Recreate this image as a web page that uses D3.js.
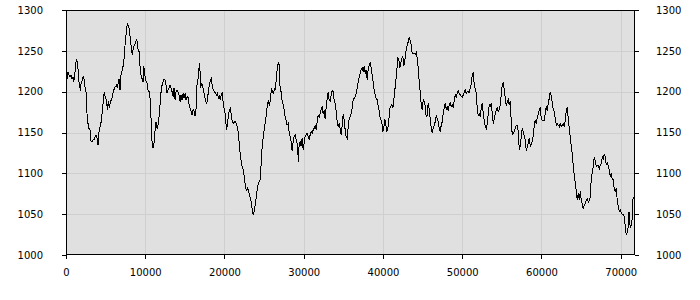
<!DOCTYPE html>
<html>
<head>
<meta charset="utf-8">
<script src="https://cdn.jsdelivr.net/npm/d3@7"></script>
<style>
  html, body { margin: 0; padding: 0; background: #ffffff; }
  svg { display: block; }
  text { font-family: "DejaVu Sans", sans-serif; font-size: 10px; fill: #000; }
</style>
</head>
<body>
<svg id="chart" width="700" height="300"></svg>
<script>
// ---- data ----
const xTicks = [0, 10000, 20000, 30000, 40000, 50000, 60000, 70000];
const yTicks = [1000, 1050, 1100, 1150, 1200, 1250, 1300];
const xDomain = [0, 71800];
const yDomain = [1000, 1300];

const steps = [
84,168,253,379,505,631,758,884,968,1094,1221,1305,1431,1557,1684,1810,1936,2062,2189,2315,2441,2568,2652,2778,2904,3031,3157,3283,3409,3536,3662,3788,3914,4041,4125,4251,4377,4504,4630,4756,4840,4967,5093,5219,5345,5472,5598,5724,5851,5977,6103,6229,6356,6482,6566,6692,6819,6903,7029,7156,7282,7408,7492,7618,7745,7871,7997,8123,8250,8376,8502,8628,8755,8881,9007,9092,9218,9344,9470,9597,9723,9807,9933,10017,10144,10270,10354,10480,10607,10733,10859,10986,11112,11238,11364,11491,11617,11743,11869,11996,12122,12248,12375,12501,12627,12753,12880,13006,13132,13258,13385,13511,13637,13764,13890,14016,
14267,14394,14520,14646,14772,14899,15025,15151,15277,15404,15530,15656,15783,15909,16035,16161,16288,16414,16498,16624,16751,16835,16919,17003,17087,17214,17340,17466,17592,17719,17845,17971,18098,18224,18350,18476,18603,18729,18855,18981,19108,19234,19360,19486,19613,19739,19865,19992,20118,20244,20370,20497,20623,20749,20875,21002,21128,21254,21381,21507,21633,21759,21886,22012,22138,22264,22391,22517,22643,22770,22896,23022,23148,23275,23401,23527,23653,23780,23906,24032,24159,24285,24411,24537,24664,24790,24916,25042,25169,25295,25421,25548,25674,25800,25926,26053,26179,26305,26431,26558,26684,26810,26937,27021,27147,27273,27400,27526,27652,27778,27905,28031,28157,28283,28410,
28535,28661,28788,28914,29040,29166,29251,29335,29419,29545,29671,29798,29924,30050,30177,30303,30429,30555,30682,30808,30934,31060,31187,31313,31439,31566,31692,31818,31944,32071,32197,32323,32449,32576,32702,32828,32955,33081,33207,33333,33460,33586,33712,33838,33965,34091,34217,34344,34470,34596,34722,34849,34975,35101,35227,35354,35480,35606,35732,35859,35985,36111,36238,36364,36490,36616,36743,36869,36995,37121,37248,37374,37500,37627,37753,37879,38005,38132,38258,38384,38510,38637,38763,38889,39016,39142,39268,39394,39521,39647,39773,39899,39984,40110,40236,40362,40489,40615,40741,40867,40994,41120,41246,41373,41499,41625,41751,41878,42004,42130,42256,42383,42509,42635,42762,42888,
43054,43181,43307,43433,43559,43686,43812,43938,44064,44191,44317,44443,44570,44696,44822,44948,45075,45201,45327,45453,45580,45706,45832,45959,46085,46211,46337,46464,46590,46716,46842,46969,47095,47221,47348,47474,47600,47726,47853,47979,48105,48231,48358,48484,48610,48737,48863,48989,49115,49242,49368,49494,49620,49747,49873,49999,50126,50252,50378,50504,50631,50757,50883,51009,51136,51262,51388,51515,51641,51767,51893,52020,52146,52272,52398,52525,52651,52777,52904,53030,53156,53282,53409,53535,53661,53787,53914,54040,54166,54293,54419,54545,54671,54798,54924,55050,55176,55303,55429,55555,55682,55808,55934,56060,56187,56313,56439,56565,56692,56818,56944,57071,57197,
57322,57448,57575,57701,57827,57953,58080,58206,58332,58458,58585,58711,58837,58964,59090,59216,59342,59469,59595,59721,59847,59974,60100,60226,60353,60479,60605,60731,60858,60984,61110,61236,61363,61489,61615,61742,61868,61994,62120,62247,62373,62499,62625,62752,62878,63004,63131,63257,63383,63509,63636,63762,63888,64014,64141,64267,64393,64520,64646,64772,64898,65025,65151,65277,65403,65530,65656,65782,65909,66035,66161,66287,66414,66540,66666,66792,66919,67045,67171,67298,67424,67550,67676,67803,67929,68055,68181,68308,68434,68560,68687,68813,68939,69065,69192,69318,69444,69570,69697,69823,69949,70076,70202,70328,70454,70581,70707,70833,70959,71044,71128,71254,71380,71465,71549,71675
];

const values = [
1227,1216,1224,1220,1218,1220,1216,1218,1212,1220,1233,1239,1237,1224,1206,1203,1212,1214,1219,1214,1202,1198,1173,1161,1155,1153,1139,1139,1141,1141,1145,1147,1143,1135,1149,1155,1159,1169,1180,1194,1200,1192,1190,1178,1188,1180,1188,1190,1194,1200,1204,1206,1208,1204,1210,1216,1202,1218,1224,1229,1235,1251,1263,1273,1284,1280,1276,1263,1253,1245,1255,1257,1259,1263,1261,1251,1249,1231,1220,1216,1212,1231,1224,1214,1212,1210,1202,1200,1192,1167,1139,1131,1137,1153,1163,1155,1159,1169,1184,1200,1208,1212,1215,1214,1208,1198,1202,1205,1208,1204,1200,1194,1205,1190,1200,1202,
1196,1188,1196,1190,1198,1192,1198,1190,1194,1193,1184,1180,1176,1171,1178,1176,1170,1180,1206,1212,1224,1235,1224,1204,1210,1208,1202,1196,1190,1186,1188,1202,1208,1214,1216,1204,1202,1200,1198,1196,1198,1192,1194,1190,1198,1199,1182,1178,1171,1153,1159,1171,1178,1180,1169,1163,1161,1163,1163,1161,1155,1149,1133,1120,1114,1106,1104,1094,1084,1078,1082,1080,1073,1069,1063,1053,1049,1055,1063,1073,1082,1088,1090,1094,1120,1137,1147,1155,1165,1173,1186,1188,1182,1192,1204,1200,1198,1204,1203,1218,1231,1235,1233,1202,1200,1188,1184,1178,1169,1165,1159,1161,1151,1145,1139,
1127,1139,1145,1147,1141,1137,1127,1114,1137,1139,1133,1143,1129,1137,1145,1147,1149,1145,1142,1147,1151,1149,1153,1155,1159,1153,1163,1171,1169,1173,1178,1182,1173,1176,1167,1180,1192,1199,1190,1188,1196,1202,1200,1190,1186,1176,1163,1157,1161,1155,1147,1159,1173,1165,1153,1145,1143,1157,1167,1169,1173,1180,1190,1192,1194,1198,1204,1212,1218,1222,1227,1229,1224,1231,1222,1227,1214,1227,1233,1235,1229,1220,1212,1202,1196,1192,1190,1182,1176,1167,1165,1159,1151,1157,1167,1159,1151,1155,1165,1180,1182,1184,1180,1190,1202,1214,1227,1241,1239,1229,1235,1241,1243,1231,1239,1249,
1257,1261,1267,1263,1257,1247,1246,1247,1246,1248,1241,1229,1212,1200,1184,1178,1190,1188,1182,1169,1171,1186,1178,1167,1155,1149,1155,1159,1163,1171,1167,1163,1155,1151,1159,1163,1173,1180,1186,1178,1182,1176,1184,1186,1182,1184,1180,1190,1196,1193,1198,1201,1198,1196,1194,1193,1196,1199,1202,1198,1200,1200,1199,1204,1210,1220,1224,1208,1204,1198,1180,1171,1173,1169,1180,1186,1173,1165,1157,1155,1161,1173,1184,1182,1186,1173,1161,1167,1173,1178,1180,1176,1178,1184,1196,1208,1212,1202,1192,1182,1188,1190,1184,1189,1163,1147,1149,1151,1155,1159,1159,1151,1129,
1133,1145,1155,1151,1145,1141,1127,1133,1137,1143,1133,1135,1139,1147,1159,1165,1161,1169,1173,1178,1180,1167,1165,1165,1165,1173,1182,1176,1186,1192,1200,1194,1186,1178,1176,1167,1159,1161,1159,1157,1161,1157,1159,1161,1157,1165,1178,1180,1167,1155,1143,1133,1124,1108,1098,1088,1078,1067,1076,1067,1078,1067,1063,1056,1061,1063,1067,1069,1065,1067,1071,1096,1100,1110,1120,1114,1108,1110,1109,1106,1110,1112,1120,1118,1124,1120,1110,1114,1108,1104,1096,1100,1092,1092,1080,1078,1082,1065,1059,1053,1055,1051,1050,1049,1047,1033,1024,1029,1035,1053,1039,1033,1039,1047,1069,1071
];

// ---- layout ----
const M = { left: 66, top: 10, right: 65, bottom: 45 };
const W = 700, H = 300;
const iw = W - M.left - M.right;   // 569
const ih = H - M.top - M.bottom;   // 245

const svg = d3.select("#chart");
const g = svg.append("g").attr("transform", `translate(${M.left},${M.top})`);

const x = d3.scaleLinear().domain(xDomain).range([0, iw]);
const y = d3.scaleLinear().domain(yDomain).range([ih, 0]);

// background
g.append("rect").attr("x", 0).attr("y", 0).attr("width", iw).attr("height", ih)
  .attr("fill", "#e0e0e0");

// grid
g.append("g").selectAll("line.vg").data(xTicks.filter(d => d > 0)).join("line")
  .attr("x1", d => Math.round(x(d)) + 0.5).attr("x2", d => Math.round(x(d)) + 0.5)
  .attr("y1", 0).attr("y2", ih)
  .attr("stroke", "#cfcfcf").attr("stroke-width", 1);
g.append("g").selectAll("line.hg").data(yTicks.filter(d => d > 1000 && d < 1300)).join("line")
  .attr("y1", d => Math.round(y(d)) + 0.5).attr("y2", d => Math.round(y(d)) + 0.5)
  .attr("x1", 0).attr("x2", iw)
  .attr("stroke", "#cfcfcf").attr("stroke-width", 1);

// line
const pts = steps.map((s, i) => [s, values[i]]);
const line = d3.line().x(d => x(d[0])).y(d => y(d[1]));
g.append("path").datum(pts).attr("d", line)
  .attr("fill", "none").attr("stroke", "#000").attr("stroke-width", 1)
  .attr("stroke-linejoin", "miter").attr("shape-rendering", "crispEdges");

// frame
g.append("rect").attr("x", 0.5).attr("y", 0.5).attr("width", iw - 1).attr("height", ih - 1)
  .attr("fill", "none").attr("stroke", "#000").attr("stroke-width", 1)
  .attr("shape-rendering", "crispEdges");

// axes
const left = d3.axisLeft(y).tickValues(yTicks).tickSize(4).tickPadding(19).tickFormat(d3.format("d"));
const right = d3.axisRight(y).tickValues(yTicks).tickSize(4).tickPadding(17).tickFormat(d3.format("d"));
const bottom = d3.axisBottom(x).tickValues(xTicks).tickSize(4).tickPadding(10).tickFormat(d3.format("d"));

function style(sel) {
  sel.select(".domain").remove();
  sel.selectAll("line").attr("stroke", "#000").attr("shape-rendering", "crispEdges");
  sel.selectAll("text").attr("font-family", "DejaVu Sans").attr("font-size", 10).attr("fill", "#000");
}
g.append("g").call(left).call(style);
g.append("g").attr("transform", `translate(${iw},0)`).call(right).call(style);
g.append("g").attr("transform", `translate(0,${ih})`).call(bottom).call(style);
</script>
</body>
</html>
